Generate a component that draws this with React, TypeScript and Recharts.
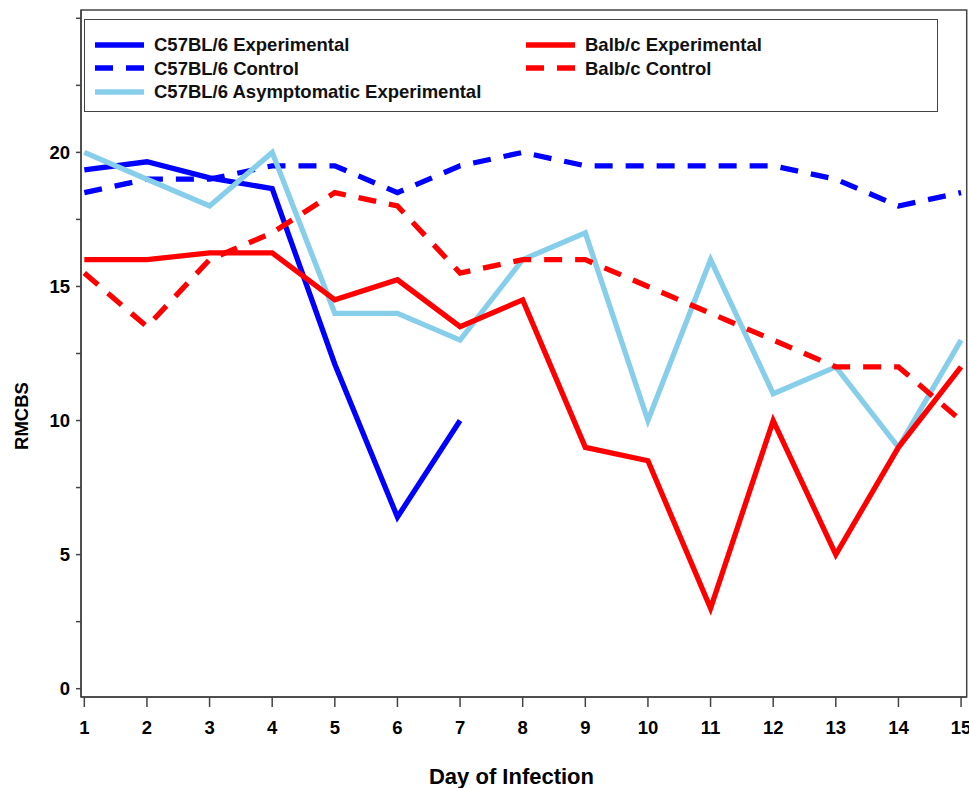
import React from 'react';
import { LineChart, Line, XAxis, YAxis, ReferenceArea, Legend, Label } from 'recharts';

const days = [1, 2, 3, 4, 5, 6, 7, 8, 9, 10, 11, 12, 13, 14, 15];
const c57Experimental = [19.35, 19.65, 19.05, 18.65, 12.1, 6.4, 10.0];
const c57Control = [18.5, 19, 19, 19.5, 19.5, 18.5, 19.5, 20, 19.5, 19.5, 19.5, 19.5, 19, 18, 18.5];
const c57Asymptomatic = [20, 19, 18, 20, 14, 14, 13, 16, 17, 10, 16, 11, 12, 9, 13];
const balbExperimental = [16, 16, 16.25, 16.25, 14.5, 15.25, 13.5, 14.5, 9, 8.5, 3, 10, 5, 9, 12];
const balbControl = [15.5, 13.5, 16, 17, 18.5, 18, 15.5, 16, 16, 15, 14, 13, 12, 12, 10];
const yTicks = [0, 2.5, 5, 7.5, 10, 12.5, 15, 17.5, 20, 22.5, 25];

const series = [
  { key: 'c57Exp', name: 'C57BL/6 Experimental', values: c57Experimental, color: '#0000FF', dashed: false },
  { key: 'c57Ctl', name: 'C57BL/6 Control', values: c57Control, color: '#0000FF', dashed: true },
  { key: 'c57Asym', name: 'C57BL/6 Asymptomatic Experimental', values: c57Asymptomatic, color: '#87CEEB', dashed: false },
  { key: 'balbExp', name: 'Balb/c Experimental', values: balbExperimental, color: '#FF0000', dashed: false },
  { key: 'balbCtl', name: 'Balb/c Control', values: balbControl, color: '#FF0000', dashed: true },
];

const data = days.map((d, i) => {
  const row: any = { day: d };
  series.forEach((s) => {
    row[s.key] = i < s.values.length ? s.values[i] : null;
  });
  return row;
});

const X_MIN = 0.947;
const X_MAX = 15.09;
const Y_MIN = -0.31;
const Y_MAX = 25.31;
const FONT = '"Liberation Sans", Arial, sans-serif';
const AXIS = '#444';
const DASH = '18 13';

const legendColumns = [[series[0], series[1], series[2]], [series[3], series[4]]];

const LegendBox = () => (
  <div
    style={{
      width: 854,
      height: 93,
      boxSizing: 'border-box',
      border: `1.5px solid ${AXIS}`,
      background: '#fff',
      position: 'relative',
      fontFamily: FONT,
      fontWeight: 'bold',
      fontSize: 18.5,
      color: '#111',
    }}
  >
    {legendColumns.map((col, ci) => (
      <div key={ci} style={{ position: 'absolute', left: ci === 0 ? 10 : 441, top: 13 }}>
        {col.map((s) => (
          <div key={s.key} style={{ display: 'flex', alignItems: 'center', height: 23.5 }}>
            <svg width={49} height={10} style={{ display: 'block' }}>
              <line
                x1={0}
                y1={5}
                x2={49}
                y2={5}
                stroke={s.color}
                strokeWidth={5.5}
                strokeDasharray={s.dashed ? DASH : undefined}
              />
            </svg>
            <span style={{ marginLeft: 10, whiteSpace: 'nowrap', lineHeight: '23px' }}>{s.name}</span>
          </div>
        ))}
      </div>
    ))}
  </div>
);

const YLabel = (props: any) => {
  const vb = props.viewBox || { x: 0, y: 0, height: 0 };
  const cx = vb.x + 21;
  const cy = 416;
  return (
    <text
      x={cx}
      y={cy}
      transform={`rotate(-90, ${cx}, ${cy})`}
      textAnchor="middle"
      dominantBaseline="central"
      fontFamily={FONT}
      fontWeight="bold"
      fontSize={18.5}
      fill="#000"
    >
      RMCBS
    </text>
  );
};

const XLabel = (props: any) => {
  const vb = props.viewBox || { x: 0, y: 0, width: 0 };
  return (
    <text
      x={511.5}
      y={vb.y + 87}
      textAnchor="middle"
      fontFamily={FONT}
      fontWeight="bold"
      fontSize={22}
      fill="#000"
    >
      Day of Infection
    </text>
  );
};

export default function App() {
  return (
    <div style={{ position: 'absolute', left: 0, top: 0, width: 969, height: 788, background: '#fff' }}>
      <LineChart width={969} height={788} data={data} margin={{ top: 10, right: 2.3, bottom: 0, left: 0 }}>
        <ReferenceArea
          x1={X_MIN}
          x2={X_MAX}
          y1={Y_MIN}
          y2={Y_MAX}
          fill="none"
          stroke={AXIS}
          strokeWidth={1.5}
          ifOverflow="visible"
        />
        <XAxis
          dataKey="day"
          type="number"
          domain={[X_MIN, X_MAX]}
          ticks={days}
          allowDataOverflow
          height={91}
          tickSize={10}
          tickMargin={14}
          axisLine={{ stroke: AXIS, strokeWidth: 1.5 }}
          tickLine={{ stroke: AXIS, strokeWidth: 1.5 }}
          tick={{ fill: '#000', fontFamily: FONT, fontWeight: 'bold', fontSize: 18.5 }}
          interval={0}
        >
          <Label content={<XLabel />} />
        </XAxis>
        <YAxis
          type="number"
          domain={[Y_MIN, Y_MAX]}
          ticks={yTicks}
          allowDataOverflow
          width={81}
          tickSize={5}
          tickMargin={6}
          interval={0}
          tickFormatter={(v: number) => (v % 5 === 0 && v < 25 ? String(v) : '')}
          axisLine={{ stroke: AXIS, strokeWidth: 1.5 }}
          tickLine={{ stroke: AXIS, strokeWidth: 1.5 }}
          tick={{ fill: '#000', fontFamily: FONT, fontWeight: 'bold', fontSize: 18.5 }}
        >
          <Label content={<YLabel />} />
        </YAxis>
        <Legend
          layout="horizontal"
          verticalAlign="middle"
          align="center"
          wrapperStyle={{ position: 'absolute', left: 84, top: 19, width: 854, height: 93 }}
          content={() => <LegendBox />}
        />
        {series.map((s) => (
          <Line
            key={s.key}
            dataKey={s.key}
            name={s.name}
            type="linear"
            stroke={s.color}
            strokeWidth={5.3}
            strokeDasharray={s.dashed ? DASH : undefined}
            dot={false}
            activeDot={false}
            connectNulls={false}
            isAnimationActive={false}
          />
        ))}
      </LineChart>
    </div>
  );
}
